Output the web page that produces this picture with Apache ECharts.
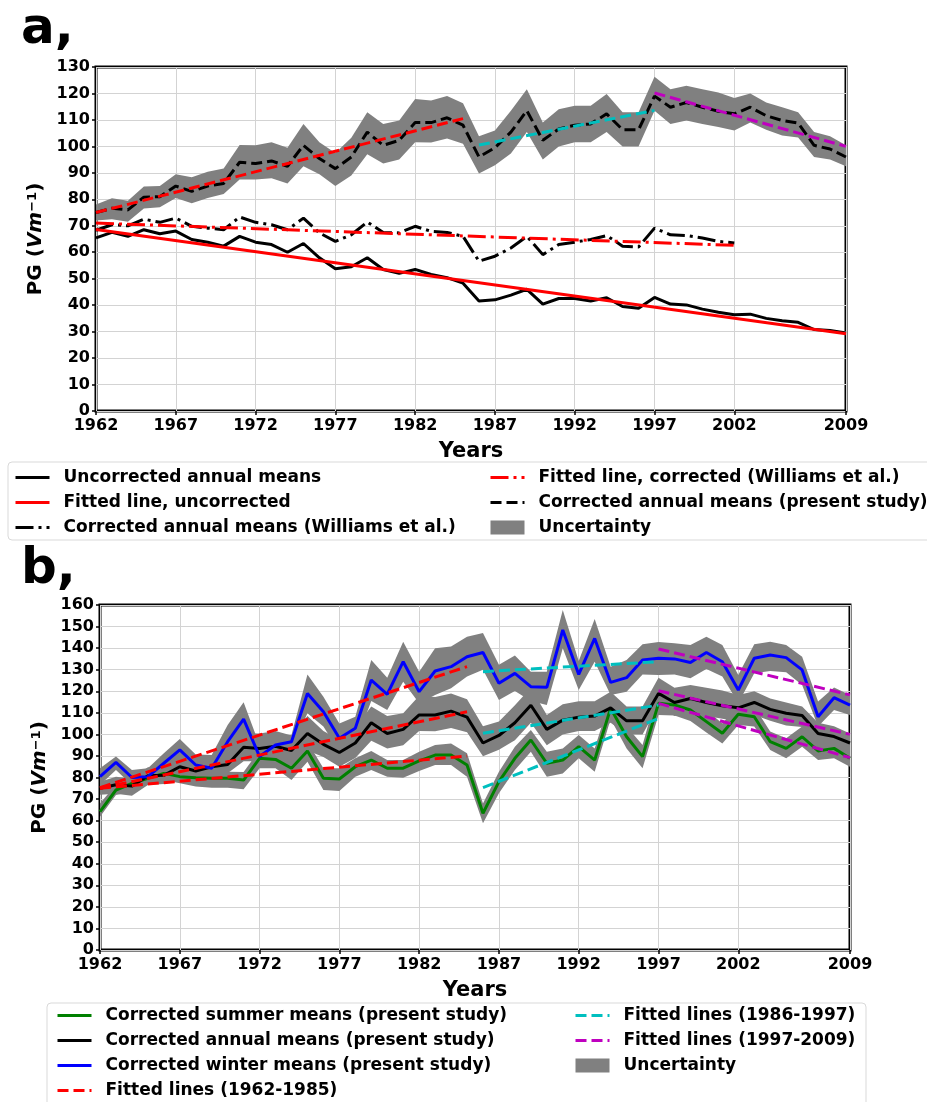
<!DOCTYPE html>
<html>
<head>
<meta charset="utf-8">
<script src="https://cdn.jsdelivr.net/npm/echarts@6.0.0/dist/echarts.min.js"></script>
<style>
  html, body { margin: 0; padding: 0; background: #fff; }
  #chart { width: 927px; height: 1102px; }
</style>
</head>
<body>
<div id="chart"></div>
<script>
// ---- data ----
var years = [1962, 1963, 1964, 1965, 1966, 1967, 1968, 1969, 1970, 1971,
             1972, 1973, 1974, 1975, 1976, 1977, 1978, 1979, 1980, 1981,
             1982, 1983, 1984, 1985, 1986, 1987, 1988, 1989, 1990, 1991,
             1992, 1993, 1994, 1995, 1996, 1997, 1998, 1999, 2000, 2001,
             2002, 2003, 2004, 2005, 2006, 2007, 2008, 2009];
var yearTicks = [1962, 1967, 1972, 1977, 1982, 1987, 1992, 1997, 2002, 2009];

// panel a
var uncorrected = [65.4, 67.5, 66, 68.5, 67, 68, 64.8, 63.8, 62.3, 66,
                   63.8, 62.9, 60, 63.3, 57.9, 53.8, 54.5, 57.9, 53.5, 52,
                   53.5, 51.6, 50.4, 48.3, 41.6, 42, 43.8, 46, 40.4, 42.5,
                   42.5, 41.6, 42.8, 39.5, 38.8, 42.9, 40.4, 40.1, 38.5, 37.3,
                   36.4, 36.6, 35, 34.1, 33.5, 30.8, 30.4, 29.5];
var williamsYears = years.slice(0, 41);
var williams = [68.3, 70.4, 70, 72.5, 71.3, 72.9, 69.8, 69.1, 68.5, 73.3,
                71.3, 70.4, 68.5, 72.9, 67.3, 64.1, 66.6, 71.4, 67.5, 67.3,
                69.8, 67.9, 67.5, 66, 56.6, 58.5, 61.6, 66, 59.1, 62.9,
                63.8, 64.8, 66.3, 62.3, 62, 69.1, 66.6, 66.3, 65.4, 64.1,
                63.5];
var annual = [75, 76.6, 76, 80.8, 81, 85, 83, 85, 86, 94,
              93.5, 94.5, 92.5, 100.4, 95.4, 91.6, 96, 105.4, 100.4, 102.3,
              109, 109, 110.8, 108, 96, 99.5, 105.4, 113.5, 102.3, 106.6,
              108, 108.5, 112.3, 106.3, 106.3, 119, 114.8, 116.6, 114.8, 113.3,
              112.3, 114.8, 111.6, 109.8, 108.8, 100.4, 99, 96];
var annualLow = [72, 72.5, 71.5, 76.5, 77, 80.5, 78.5, 80.5, 82, 87.5,
                 87.5, 88, 86, 92.5, 89.5, 85, 89, 97, 93.5, 95,
                 101.6, 101.5, 103, 101, 89.8, 92.9, 97.3, 105.4, 95, 100,
                 101.6, 101.6, 105.4, 100, 100, 113.5, 108.5, 109.8, 108.5, 107.3,
                 106, 109, 106.3, 104.1, 103.4, 96, 95, 92.5];
var annualHigh = [78, 80.4, 79.5, 84.8, 85, 89.5, 88.3, 90.4, 91.6, 100.5,
                  100.4, 101.6, 99.5, 108.5, 101.6, 97.5, 103.3, 112.9, 108.5, 109.8,
                  117.9, 117.3, 119, 116.3, 103.8, 106, 113.5, 121.6, 109, 114,
                  115.4, 115.4, 119.8, 112.9, 112.9, 126.3, 121.6, 122.9, 121.6, 120.4,
                  118.3, 120, 116.6, 114.8, 112.9, 105.4, 103.8, 100.4];
var fitUncorrected = [[1962, 68.6], [2009, 29.2]];
var fitWilliams = [[1962, 71], [2002, 62.6]];
var fitAnnual1 = [[1962, 75], [1985, 110.5]];
var fitAnnual2 = [[1986, 100.5], [1997, 113.6]];
var fitAnnual3 = [[1997, 120.2], [2009, 100]];

// panel b
var summer = [64.2, 74.2, 77.3, 79.6, 81.9, 80.4, 79.9, 79.6, 79.6, 78.8,
              88.9, 88.4, 84.3, 92.3, 79.6, 79.3, 85, 88.1, 84.3, 84.3,
              87.7, 90.4, 90.4, 85.8, 63.4, 78.1, 88.9, 97.4, 86.6, 88.1,
              94.3, 88.1, 112.1, 98.9, 89.7, 114.4, 113.6, 111.3, 105.9, 100.5,
              109.3, 108.2, 96.6, 93.5, 98.9, 92.3, 93.5, 88.9];
var summerLow = [61.8, 71.9, 73.4, 76.8, 78.8, 77.3, 75.8, 75.3, 75.3, 74.5,
                 84.3, 84.3, 78.8, 87.3, 74.2, 73.7, 80.4, 83.5, 80.4, 79.9,
                 83, 85.8, 85.8, 80.4, 58.8, 72.7, 83.5, 92, 80.4, 81.9,
                 88.9, 82.7, 107.1, 93.5, 84.3, 109, 108.7, 106.2, 100.9, 95.8,
                 104.4, 103.6, 92.8, 88.9, 94.3, 88.1, 88.9, 85];
var summerHigh = [68, 76.8, 79.9, 83, 84.3, 83.5, 82.7, 82.4, 82.7, 82.5,
                  92.8, 92.8, 88.1, 96.6, 84.3, 84.3, 88.9, 92.3, 88.1, 88.1,
                  92, 95.1, 95.8, 91.2, 68, 82.7, 94.3, 102, 92, 93.5,
                  99.7, 93.5, 116.7, 103.6, 95.1, 121.4, 118.6, 116.7, 111.3, 105.1,
                  113.6, 112.9, 101.3, 98.2, 103.6, 96.6, 97.4, 93.2];
var winter = [80.4, 87, 80, 80.4, 86.6, 92.8, 85.8, 84.3, 96.6, 107.1,
              89.7, 95.1, 96.6, 119, 110.5, 98.2, 102.8, 125.2, 118.6, 133.7,
              119.8, 129.4, 131.4, 136, 138, 123.7, 128.3, 122.1, 121.8, 148.4,
              127.8, 144.5, 124.1, 126.3, 134.5, 135.3, 135, 133.3, 138, 133.7,
              120.6, 135.3, 136.8, 135.6, 129.9, 108.2, 117, 113.6];
var winterLow = [76.5, 83.5, 76.5, 76.5, 82.7, 88.1, 81.2, 78.8, 91.2, 99.7,
                 84.5, 91.2, 93.5, 109.8, 103.6, 92, 95.8, 115.5, 111.3, 124.4,
                 114.4, 118.3, 121.4, 126.8, 130, 116, 120.1, 115.5, 113.6, 139.9,
                 120.6, 133.7, 118.3, 119.8, 127.8, 127.5, 127.8, 126, 130.3, 126.8,
                 114.4, 128.3, 129.4, 128.8, 122.9, 103.6, 111.3, 109];
var winterHigh = [84.3, 89.7, 83.5, 84.3, 91.2, 97.9, 90.7, 90.4, 104.4, 114.9,
                  95, 98.9, 99.7, 127.8, 117.5, 105.1, 108.2, 134.5, 126.3, 143,
                  129.1, 139.9, 140.7, 145.3, 147, 132.3, 136.6, 129, 129, 157.7,
                  134, 153.5, 131.4, 134.5, 141.8, 142.8, 142.3, 141.5, 145.3, 141.5,
                  127.5, 141.8, 143, 141.5, 136, 115.2, 121.7, 118.3];
var fitSummer1 = [[1962, 75], [1985, 90]];
var fitSummer2 = [[1986, 75.3], [1997, 107.4]];
var fitSummer3 = [[1997, 114.4], [2009, 89.2]];
var fitWinter1 = [[1962, 75.3], [1985, 131.4]];
var fitWinter2 = [[1986, 129.1], [1997, 133.7]];
var fitWinter3 = [[1997, 139.6], [2009, 118.3]];

// ---- styling ----
var FONT = 'DejaVu Sans';
var GREY = '#808080';
var DASH = [11, 5];
var DASHDOT = [18, 5, 3, 5];
var B_TAG = ' [b]'; // panel b series share legend text with panel a, keep them apart

function pairs(xs, ys) {
  return ys.map(function (v, i) { return [xs[i], v]; });
}

function line(name, data, color, type, idx, z) {
  return {
    name: name, type: 'line', xAxisIndex: idx, yAxisIndex: idx,
    data: data, symbol: 'none', silent: true, z: z,
    lineStyle: { color: color, width: 3, type: type },
    itemStyle: { color: color }
  };
}

function band(name, xs, lo, hi, idx) {
  return {
    name: name, type: 'custom', xAxisIndex: idx, yAxisIndex: idx, z: 1, silent: true,
    data: xs.map(function (x, i) { return [x, lo[i], hi[i]]; }),
    encode: { x: 0, y: [1, 2] },
    itemStyle: { color: GREY },
    renderItem: function (params, api) {
      if (params.dataIndex !== 0) return null;
      var top = xs.map(function (x, i) { return api.coord([x, hi[i]]); });
      var bot = xs.map(function (x, i) { return api.coord([x, lo[i]]); }).reverse();
      return { type: 'polygon', shape: { points: top.concat(bot) }, style: { fill: GREY } };
    }
  };
}

function xAxis(idx) {
  return {
    type: 'value', gridIndex: idx, min: 1962, max: 2009,
    name: 'Years', nameLocation: 'middle', nameGap: 30,
    nameTextStyle: { fontFamily: FONT, fontWeight: 'bold', fontSize: 21, color: '#000' },
    axisLine: { show: false },
    axisTick: { show: true, length: 4, customValues: yearTicks, lineStyle: { color: '#000', width: 1.5 } },
    axisLabel: {
      customValues: yearTicks, fontFamily: FONT, fontWeight: 'bold', fontSize: 16, color: '#000', margin: 7,
      formatter: function (v) { return String(v); }
    },
    splitLine: { show: true, lineStyle: { color: '#d3d3d3', width: 1 } }
  };
}

function yAxis(idx, max) {
  return {
    type: 'value', gridIndex: idx, min: 0, max: max, interval: 10,
    name: '{b|PG (}{i|Vm}{s|−1}{b|)}', nameLocation: 'middle', nameGap: 46,
    nameTextStyle: {
      rich: {
        b: { fontFamily: FONT, fontWeight: 'bold', fontSize: 20, color: '#000' },
        i: { fontFamily: FONT, fontWeight: 'bold', fontStyle: 'italic', fontSize: 20, color: '#000' },
        s: { fontFamily: FONT, fontWeight: 'bold', fontSize: 13, color: '#000', verticalAlign: 'top' }
      }
    },
    axisLine: { show: false },
    axisTick: { show: true, length: 4, lineStyle: { color: '#000', width: 1.5 } },
    axisLabel: { fontFamily: FONT, fontWeight: 'bold', fontSize: 16, color: '#000', margin: 6 },
    splitLine: { show: true, lineStyle: { color: '#d3d3d3', width: 1 } }
  };
}

var legendText = { fontFamily: FONT, fontWeight: 'bold', fontSize: 17, color: '#000', padding: [0, 0, 0, 9] };
function legend(left, top, names) {
  return {
    orient: 'vertical', left: left, top: top, height: 130, padding: 0,
    itemWidth: 34, itemHeight: 14, itemGap: 8,
    selectedMode: false, textStyle: legendText, z: 10,
    lineStyle: { width: 3 },
    itemStyle: { opacity: 0 },
    formatter: function (n) { return n.replace(B_TAG, ''); },
    data: names.map(function (n) {
      return n === 'Uncertainty' ? { name: n, icon: 'rect', itemStyle: { color: GREY, opacity: 1 } } : n;
    })
  };
}

var chart = echarts.init(document.getElementById('chart'), null, { renderer: 'canvas' });
chart.setOption({
  animation: false,
  backgroundColor: '#fff',
  graphic: [
    { type: 'text', left: 21, top: 5, style: { text: 'a,', fontFamily: FONT, fontWeight: 'bold', fontSize: 50, fill: '#000' } },
    { type: 'text', left: 21, top: 545, style: { text: 'b,', fontFamily: FONT, fontWeight: 'bold', fontSize: 50, fill: '#000' } },
    { type: 'rect', z: 0, shape: { x: 8, y: 462, width: 940, height: 78, r: 4 }, style: { fill: '#fff', stroke: '#d9d9d9', lineWidth: 1 } },
    { type: 'rect', z: 0, shape: { x: 47, y: 1003, width: 819, height: 120, r: 4 }, style: { fill: '#fff', stroke: '#d9d9d9', lineWidth: 1 } }
  ],
  grid: [
    { left: 96, right: 81, top: 67, bottom: 691, show: true, borderColor: '#000', borderWidth: 3, containLabel: false },
    { left: 100, right: 77, top: 605, bottom: 152, show: true, borderColor: '#000', borderWidth: 3, containLabel: false }
  ],
  xAxis: [xAxis(0), xAxis(1)],
  yAxis: [yAxis(0, 130), yAxis(1, 160)],
  legend: [
    legend(14, 469, ['Uncorrected annual means', 'Fitted line, uncorrected', 'Corrected annual means (Williams et al.)']),
    legend(489, 469, ['Fitted line, corrected (Williams et al.)', 'Corrected annual means (present study)', 'Uncertainty']),
    legend(56, 1007, ['Corrected summer means (present study)', 'Corrected annual means (present study)' + B_TAG, 'Corrected winter means (present study)', 'Fitted lines (1962-1985)']),
    legend(574, 1007, ['Fitted lines (1986-1997)', 'Fitted lines (1997-2009)', 'Uncertainty'])
  ],
  series: [
    // panel a
    band('Uncertainty', years, annualLow, annualHigh, 0),
    line('Uncorrected annual means', pairs(years, uncorrected), '#000', 'solid', 0, 3),
    line('Corrected annual means (Williams et al.)', pairs(williamsYears, williams), '#000', DASHDOT, 0, 3),
    line('Corrected annual means (present study)', pairs(years, annual), '#000', DASH, 0, 3),
    line('Fitted line, uncorrected', fitUncorrected, '#ff0000', 'solid', 0, 4),
    line('Fitted line, corrected (Williams et al.)', fitWilliams, '#ff0000', DASHDOT, 0, 4),
    line('a-fit1', fitAnnual1, '#ff0000', DASH, 0, 4),
    line('a-fit2', fitAnnual2, '#00bfbf', DASH, 0, 4),
    line('a-fit3', fitAnnual3, '#bf00bf', DASH, 0, 4),
    // panel b
    band('Uncertainty', years, summerLow, summerHigh, 1),
    band('Uncertainty', years, annualLow, annualHigh, 1),
    band('Uncertainty', years, winterLow, winterHigh, 1),
    line('Corrected summer means (present study)', pairs(years, summer), '#008000', 'solid', 1, 3),
    line('Corrected annual means (present study)' + B_TAG, pairs(years, annual), '#000', 'solid', 1, 3),
    line('Corrected winter means (present study)', pairs(years, winter), '#0000ff', 'solid', 1, 3),
    line('Fitted lines (1962-1985)', fitSummer1, '#ff0000', DASH, 1, 4),
    line('Fitted lines (1962-1985)', fitAnnual1, '#ff0000', DASH, 1, 4),
    line('Fitted lines (1962-1985)', fitWinter1, '#ff0000', DASH, 1, 4),
    line('Fitted lines (1986-1997)', fitSummer2, '#00bfbf', DASH, 1, 4),
    line('Fitted lines (1986-1997)', fitAnnual2, '#00bfbf', DASH, 1, 4),
    line('Fitted lines (1986-1997)', fitWinter2, '#00bfbf', DASH, 1, 4),
    line('Fitted lines (1997-2009)', fitSummer3, '#bf00bf', DASH, 1, 4),
    line('Fitted lines (1997-2009)', fitAnnual3, '#bf00bf', DASH, 1, 4),
    line('Fitted lines (1997-2009)', fitWinter3, '#bf00bf', DASH, 1, 4)
  ]
});
</script>
</body>
</html>
